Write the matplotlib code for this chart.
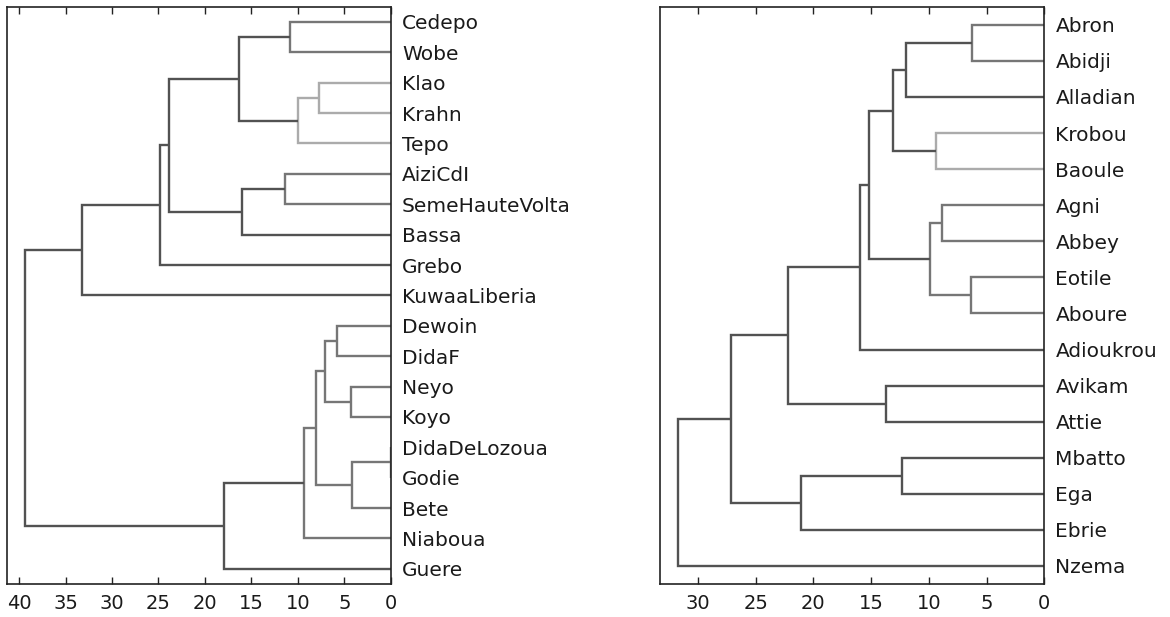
import matplotlib
matplotlib.use("Agg")
import matplotlib.pyplot as plt

# ---------------- data ----------------
left_leaves = ["Cedepo", "Wobe", "Klao", "Krahn", "Tepo", "AiziCdI", "SemeHauteVolta",
               "Bassa", "Grebo", "KuwaaLiberia", "Dewoin", "DidaF", "Neyo", "Koyo",
               "DidaDeLozoua", "Godie", "Bete", "Niaboua", "Guere"]
# merges: (child a, child b, height); index >= n refers to earlier merge
left_merges = [
    (0, 1, 10.8),
    (2, 3, 7.7),
    (20, 4, 10.0),
    (19, 21, 16.3),
    (5, 6, 11.4),
    (23, 7, 16.0),
    (22, 24, 23.9),
    (25, 8, 24.8),
    (26, 9, 33.2),
    (10, 11, 5.8),
    (12, 13, 4.3),
    (28, 29, 7.1),
    (14, 15, 0.0),
    (31, 16, 4.2),
    (30, 32, 8.0),
    (33, 17, 9.3),
    (34, 18, 17.9),
    (27, 35, 39.4),
]

right_leaves = ["Abron", "Abidji", "Alladian", "Krobou", "Baoule", "Agni", "Abbey",
                "Eotile", "Aboure", "Adioukrou", "Avikam", "Attie", "Mbatto", "Ega",
                "Ebrie", "Nzema"]
right_merges = [
    (0, 1, 6.3),
    (16, 2, 12.0),
    (3, 4, 9.4),
    (17, 18, 13.1),
    (5, 6, 8.85),
    (7, 8, 6.35),
    (20, 21, 9.9),
    (19, 22, 15.2),
    (23, 9, 16.0),
    (10, 11, 13.75),
    (24, 25, 22.2),
    (12, 13, 12.3),
    (27, 14, 21.1),
    (26, 28, 27.1),
    (29, 15, 31.7),
]

left_ticks = [40, 35, 30, 25, 20, 15, 10, 5, 0]
right_ticks = [30, 25, 20, 15, 10, 5, 0]

# ---------------- style ----------------
DARK = "#525252"
MED = "#767676"
LIGHT = "#ababab"
highlight = {"Klao", "Krahn", "Tepo", "Krobou", "Baoule"}

plt.rcParams["font.family"] = ["DejaVu Sans"]
fig = plt.figure(figsize=(11.70, 6.17), dpi=100)

ax1 = fig.add_axes([0.006, 0.0535, 0.328, 0.9355])
ax2 = fig.add_axes([0.564, 0.0535, 0.3286, 0.9355])


def draw(ax, leaves, merges, threshold, xmax, ticks):
    n = len(leaves)
    pos = {i: 5 + 10 * i for i in range(n)}
    hgt = {i: 0.0 for i in range(n)}
    members = {i: {leaves[i]} for i in range(n)}
    for k, (a, b, h) in enumerate(merges):
        idx = n + k
        mem = members[a] | members[b]
        if h < threshold:
            col = LIGHT if mem <= highlight else MED
        else:
            col = DARK
        ya, yb = pos[a], pos[b]
        ax.plot([hgt[a], h, h, hgt[b]], [ya, ya, yb, yb], color=col, lw=1.7,
                solid_joinstyle="miter", solid_capstyle="butt", zorder=2)
        pos[idx] = (ya + yb) / 2
        hgt[idx] = h
        members[idx] = mem
    ax.set_xlim(xmax, 0)
    ax.set_ylim(10 * n, 0)
    ax.set_xticks(ticks)
    ax.set_xticklabels([str(t) for t in ticks])
    ax.set_yticks([5 + 10 * i for i in range(n)])
    ax.set_yticklabels(leaves)
    ax.yaxis.tick_right()
    ax.tick_params(axis="y", length=0, pad=8, labelsize=14.5, labelcolor="#1a1a1a")
    ax.tick_params(axis="x", direction="in", top=True, bottom=True, length=5,
                   width=1.0, color="#222222", pad=7, labelsize=14, labelcolor="#1a1a1a")
    for s in ax.spines.values():
        s.set_linewidth(1.2)
        s.set_color("#222222")


draw(ax1, left_leaves, left_merges, 12.0, 41.3, left_ticks)
draw(ax2, right_leaves, right_merges, 11.0, 33.3, right_ticks)

fig.savefig("out.png", dpi=100)
